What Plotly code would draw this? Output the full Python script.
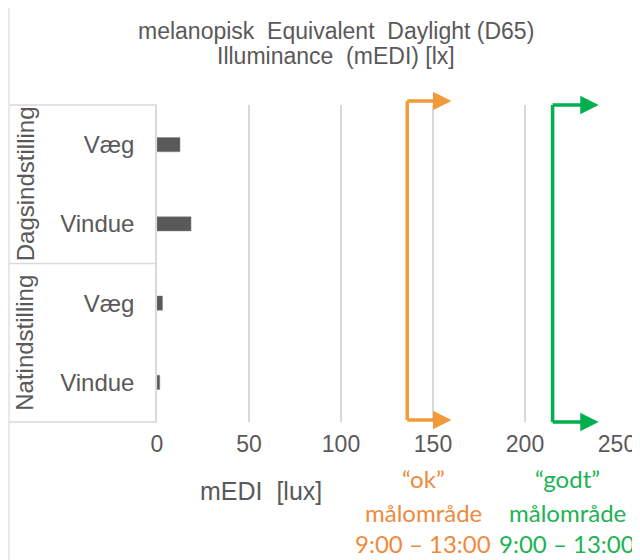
import plotly.graph_objects as go

# ---- data ----
groups = ["Dagsindstilling", "Dagsindstilling", "Natindstilling", "Natindstilling"]
positions = ["Væg", "Vindue", "Væg", "Vindue"]
medi_values = [12.5, 18.5, 3.0, 1.5]
ok_target = 136
good_target = 215
title_lines = ["melanopisk  Equivalent  Daylight (D65)", "Illuminance  (mEDI) [lx]"]
x_ticks = [0, 50, 100, 150, 200, 250]

# ---- layout geometry (page pixels; the page body has an 8px margin) ----
OFF = 8
W, H = 640 - OFF, 560 - OFF
L, R, T, B = 157, 617, 105, 422


def px(xp):
    return (xp - L) / (R - L)


def py(yp):
    return (B - yp) / (B - T)


cats = [f"{g} - {p}" for g, p in zip(groups, positions)]

GREY = "#595959"
ORANGE = "#F29A3A"
ORANGE_TXT = "#EF8A3C"
GREEN = "#00B050"
GREEN_TXT = "#1DB354"

fig = go.Figure()
fig.add_trace(go.Bar(
    y=cats, x=medi_values, orientation="h",
    marker=dict(color=GREY, line=dict(color="#8a8a8a", width=0.5)),
    width=0.18, showlegend=False, cliponaxis=False,
))

fig.update_layout(
    width=W, height=H,
    margin=dict(l=L - OFF, r=640 - R, t=T - OFF, b=560 - B, autoexpand=False),
    plot_bgcolor="white", paper_bgcolor="white",
    font=dict(family="Liberation Sans, Arial, sans-serif", color=GREY),
    bargap=0.8,
)
fig.update_xaxes(
    range=[0, 250], tickvals=x_ticks, ticks="", automargin=False,
    showgrid=True, gridcolor="#D9D9D9", gridwidth=2,
    zeroline=False, showline=False,
    tickfont=dict(size=23, color=GREY), ticklabelstandoff=6,
)
fig.update_yaxes(
    categoryorder="array", categoryarray=cats, autorange="reversed",
    tickvals=cats, ticktext=positions, ticks="", automargin=False,
    showgrid=False, zeroline=False,
    showline=True, linecolor="#D9D9D9", linewidth=1.5,
    tickfont=dict(size=24, color=GREY), ticklabelstandoff=16,
)

# category box lines
box_col = "#D9D9D9"
for yy in [T, (T + B) / 2, B]:
    fig.add_shape(type="line", xref="paper", yref="paper",
                  x0=px(9), x1=px(157), y0=py(yy), y1=py(yy),
                  line=dict(color=box_col, width=1.5))
# outer left border
fig.add_shape(type="line", xref="paper", yref="paper",
              x0=px(OFF + 1), x1=px(OFF + 1), y0=py(OFF), y1=py(560),
              line=dict(color="#E0E0E0", width=1.5))

# group labels (rotated)
for gname, yc in [("Dagsindstilling", (T + (T + B) / 2) / 2), ("Natindstilling", ((T + B) / 2 + B) / 2)]:
    fig.add_annotation(text=gname, xref="paper", yref="paper", x=px(25), y=py(yc),
                       showarrow=False, textangle=-90, font=dict(size=24, color=GREY),
                       xanchor="center", yanchor="middle")

# brackets
for xv, tip, ytop, ybot, col in [(ok_target, 160, 101, 420, ORANGE), (good_target, 240, 105, 422, GREEN)]:
    fig.add_shape(type="line", xref="x", yref="paper", x0=xv, x1=xv, y0=py(ytop), y1=py(ybot),
                  line=dict(color=col, width=3.5))
    for yy in [ytop, ybot]:
        fig.add_annotation(x=tip, y=py(yy), xref="x", yref="paper", ax=xv - 0.8, ay=0,
                           axref="x", text="", showarrow=True, arrowhead=2,
                           arrowsize=1.05, arrowwidth=3.5, arrowcolor=col)

# title
for txt, yc in zip(title_lines, [31, 56]):
    fig.add_annotation(text=txt, xref="paper", yref="paper",
                       x=px(336), y=py(yc), showarrow=False, xanchor="center", yanchor="middle",
                       font=dict(size=23, color=GREY))

# axis title
fig.add_annotation(text="mEDI  [lux]", xref="paper", yref="paper", x=px(261), y=py(491),
                   showarrow=False, xanchor="center", yanchor="middle",
                   font=dict(size=25, color=GREY))

# target labels
for lines, xc, col in [(["“ok”", "målområde", "9:00 – 13:00"], 423, ORANGE_TXT),
                       (["“godt”", "målområde", "9:00 – 13:00"], 567, GREEN_TXT)]:
    for txt, yc in zip(lines, [478, 512, 543]):
        fig.add_annotation(text=txt, xref="paper", yref="paper", x=px(xc), y=py(yc),
                           showarrow=False, xanchor="center", yanchor="middle",
                           font=dict(size=24, color=col, family="Lato, Noto Sans, sans-serif"))

fig.write_html("out.html")
